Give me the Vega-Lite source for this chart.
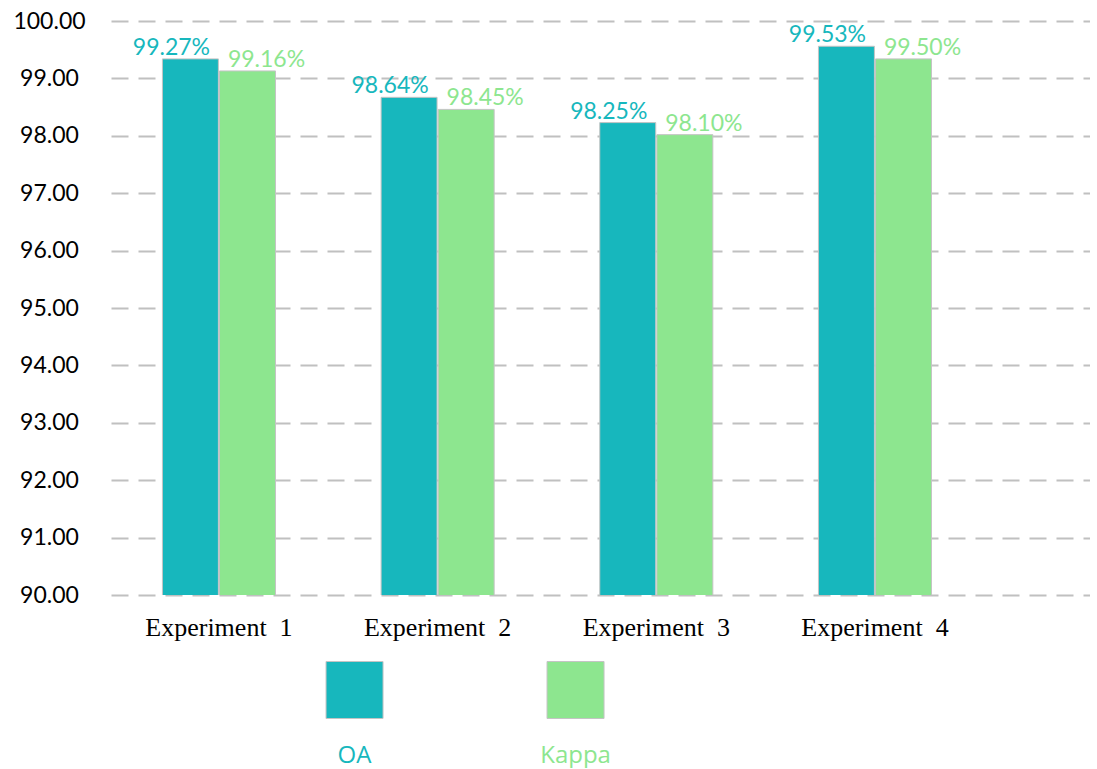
{
  "$schema": "https://vega.github.io/schema/vega-lite/v6.json",
  "padding": {"left": 12, "top": 10, "right": 0, "bottom": 0},
  "background": "white",
  "config": {"view": {"stroke": null}, "concat": {"spacing": 0}},
  "datasets": {
    "bars": [
      {"exp": "Experiment\u00a0\u00a01", "series": "OA", "value": 99.34, "label": "99.27%"},
      {"exp": "Experiment\u00a0\u00a01", "series": "Kappa", "value": 99.13, "label": "99.16%"},
      {"exp": "Experiment\u00a0\u00a02", "series": "OA", "value": 98.67, "label": "98.64%"},
      {"exp": "Experiment\u00a0\u00a02", "series": "Kappa", "value": 98.46, "label": "98.45%"},
      {"exp": "Experiment\u00a0\u00a03", "series": "OA", "value": 98.23, "label": "98.25%"},
      {"exp": "Experiment\u00a0\u00a03", "series": "Kappa", "value": 98.02, "label": "98.10%"},
      {"exp": "Experiment\u00a0\u00a04", "series": "OA", "value": 99.56, "label": "99.53%"},
      {"exp": "Experiment\u00a0\u00a04", "series": "Kappa", "value": 99.34, "label": "99.50%"}
    ],
    "legend": [
      {"series": "OA"},
      {"series": "Kappa"}
    ]
  },
  "vconcat": [
    {
      "width": 979,
      "height": 574,
      "data": {"name": "bars"},
      "encoding": {
        "x": {
          "field": "exp", "type": "nominal", "sort": null,
          "scale": {"paddingInner": 0.483, "paddingOuter": 0.48, "align": 0.245},
          "axis": {
            "title": null, "labelAngle": 0, "domain": false, "ticks": false, "tickSize": 0,
            "labelFont": "Liberation Serif", "labelFontSize": 26, "labelColor": "#000000",
            "labelPadding": 19, "labelFontWeight": "normal"
          }
        },
        "y": {
          "field": "value", "type": "quantitative",
          "scale": {"domain": [90, 100], "nice": false, "zero": false},
          "axis": {
            "title": null, "values": [90, 91, 92, 93, 94, 95, 96, 97, 98, 99, 100],
            "format": ".2f", "grid": true, "gridDash": [17, 10], "gridColor": "#C0C0C0",
            "gridWidth": 2, "gridOpacity": 1, "domain": false, "ticks": false, "tickSize": 0,
            "labelAlign": "center", "labelPadding": 62, "labelFont": "Lato",
            "labelFontSize": 23, "labelColor": "#000000"
          }
        },
        "xOffset": {
          "field": "series", "type": "nominal", "sort": ["OA", "Kappa"],
          "scale": {"paddingInner": 0.02, "paddingOuter": 0}
        },
        "color": {
          "field": "series", "type": "nominal",
          "scale": {"domain": ["OA", "Kappa"], "range": ["#17B7BD", "#8DE68F"]},
          "legend": null
        }
      },
      "layer": [
        {"mark": {"type": "bar", "stroke": "#C4C4C4", "strokeWidth": 1, "opacity": 1, "clip": true}},
        {
          "transform": [{"filter": "datum.series === 'OA'"}],
          "mark": {"type": "text", "dx": -19, "dy": -4, "baseline": "alphabetic", "align": "center", "font": "Lato", "fontSize": 23},
          "encoding": {"text": {"field": "label"}}
        },
        {
          "transform": [{"filter": "datum.series === 'Kappa'"}],
          "mark": {"type": "text", "dx": 19, "dy": -4, "baseline": "alphabetic", "align": "center", "font": "Lato", "fontSize": 23},
          "encoding": {"text": {"field": "label"}}
        }
      ]
    },
    {
      "width": 663,
      "height": 100,
      "data": {"name": "legend"},
      "encoding": {
        "x": {
          "field": "series", "type": "nominal", "sort": ["OA", "Kappa"],
          "scale": {"type": "point", "padding": 1, "align": 0.551},
          "axis": null
        },
        "color": {
          "field": "series", "type": "nominal",
          "scale": {"domain": ["OA", "Kappa"], "range": ["#17B7BD", "#8DE68F"]},
          "legend": null
        }
      },
      "layer": [
        {"mark": {"type": "square", "size": 3249, "filled": true, "opacity": 1, "stroke": "#C4C4C4", "strokeWidth": 1}},
        {
          "mark": {"type": "text", "dy": 72.5, "baseline": "alphabetic", "align": "center", "font": "Open Sans", "fontSize": 24},
          "encoding": {"text": {"field": "series"}}
        }
      ]
    }
  ]
}
